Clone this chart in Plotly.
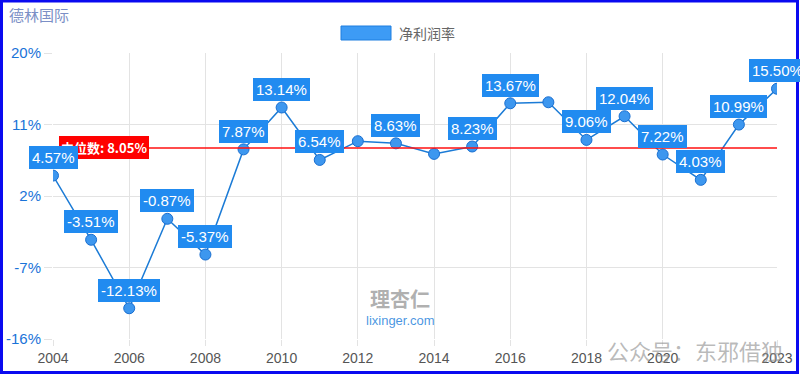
import numpy as np
import plotly.graph_objects as go

years = list(range(2004, 2024))
net_margin = [4.57, -3.51, -12.13, -0.87, -5.37, 7.87, 13.14, 6.54, 8.90, 8.63,
              7.30, 8.23, 13.67, 13.80, 9.06, 12.04, 7.22, 4.03, 10.99, 15.50]
hidden_labels = [2012, 2014, 2017]
x_ticks = [2004, 2006, 2008, 2010, 2012, 2014, 2016, 2018, 2020, 2023]
y_ticks = [-16, -7, 2, 11, 20]
title_text = "德林国际"
series_name = "净利润率"

median_val = float(np.median(net_margin))

W, H = 800, 376
ML, MR, MT, MB = 53, 23, 53, 37
PW, PH = W - ML - MR, H - MT - MB

FONT = "Liberation Sans, Arial, Noto Sans CJK SC, sans-serif"
CJK = "Noto Sans CJK SC, sans-serif"

def px_x(p):
    return (p - ML) / PW

def px_y(p):
    return 1 - (p - MT) / PH

fig = go.Figure()

fig.add_trace(go.Scatter(
    x=years, y=net_margin, mode="lines+markers", name=series_name,
    line=dict(color="#1b7bd6", width=1.5),
    marker=dict(size=11, color="#3d97ef", line=dict(color="#1a6fd0", width=1)),
    showlegend=False, hoverinfo="skip",
))

annotations = []

# median line + label (drawn first so value labels sit on top)
fig.add_shape(type="line", xref="paper", yref="y", x0=0, x1=1,
              y0=median_val, y1=median_val, line=dict(color="#ff1010", width=1.5))
annotations.append(dict(
    x=0, y=median_val, xref="paper", yref="y", xanchor="left", yanchor="middle",
    xshift=6, text=f"<b>中位数: {median_val:.2f}%</b>", showarrow=False,
    font=dict(family=CJK, size=13, color="white"),
    bgcolor="#ff0000", bordercolor="#ff0000", borderwidth=1, borderpad=1,
))

for yr, v in zip(years, net_margin):
    if yr in hidden_labels:
        continue
    annotations.append(dict(
        x=yr, y=v, xref="x", yref="y", text=f"{v:.2f}%", showarrow=False,
        yshift=18, font=dict(family=FONT, size=15, color="white"),
        bgcolor="#218bf0", bordercolor="#218bf0", borderwidth=1, borderpad=2,
    ))

# legend (box + text)
fig.add_shape(type="rect", xref="paper", yref="paper",
              x0=px_x(341), x1=px_x(391), y0=px_y(40), y1=px_y(26),
              fillcolor="#3d9bf5", line=dict(color="#1f7fe0", width=1))
annotations.append(dict(
    x=px_x(397), y=px_y(33), xref="paper", yref="paper", xanchor="left",
    yanchor="middle", text=series_name, showarrow=False,
    font=dict(family=CJK, size=14, color="#666666"),
))

# title
annotations.append(dict(
    x=px_x(7), y=px_y(15), xref="paper", yref="paper", xanchor="left",
    yanchor="middle", text=title_text, showarrow=False,
    font=dict(family=CJK, size=15, color="#7b8fc6"),
))

# watermarks
annotations.append(dict(
    x=px_x(400), y=px_y(298), xref="paper", yref="paper", xanchor="center",
    yanchor="middle", text="<b>理杏仁</b>", showarrow=False,
    font=dict(family=CJK, size=20, color="rgba(150,150,150,0.75)"),
))
annotations.append(dict(
    x=px_x(400), y=px_y(320), xref="paper", yref="paper", xanchor="center",
    yanchor="middle", text="lixinger.com", showarrow=False,
    font=dict(family=FONT, size=13, color="rgba(40,130,220,0.85)"),
))
annotations.append(dict(
    x=px_x(695), y=px_y(350), xref="paper", yref="paper", xanchor="center",
    yanchor="middle", text="公众号：东邪借独", showarrow=False,
    font=dict(family=CJK, size=22, color="rgba(140,140,140,0.6)"),
))

# blue frame around figure
fig.add_shape(type="rect", xref="paper", yref="paper",
              x0=px_x(1.5), x1=px_x(W - 2.5), y0=px_y(H - 3.5), y1=px_y(1),
              line=dict(color="#0a0af0", width=3), fillcolor="rgba(0,0,0,0)")

fig.update_layout(
    width=W, height=H,
    margin=dict(l=ML, r=MR, t=MT, b=MB, pad=0, autoexpand=False),
    paper_bgcolor="white", plot_bgcolor="white",
    annotations=annotations,
    showlegend=False,
    font=dict(family=FONT),
)
fig.update_xaxes(
    range=[2004, 2023], tickvals=x_ticks, ticktext=[str(t) for t in x_ticks],
    showgrid=True, gridcolor="#e3e3e3", gridwidth=1, zeroline=False,
    ticks="outside", ticklen=6, tickcolor="#e3e3e3", automargin=False,
    showline=False, tickfont=dict(family=FONT, size=14, color="#555555"),
)
fig.update_yaxes(
    range=[-16, 20], tickvals=y_ticks, ticktext=[f"{t}%" for t in y_ticks],
    showgrid=True, gridcolor="#e3e3e3", gridwidth=1, zeroline=False,
    ticks="outside", ticklen=8, tickcolor="#e3e3e3", automargin=False,
    showline=False, tickfont=dict(family=FONT, size=15, color="#1a73d8"),
)

fig.write_html(
    "out.html",
    config={"displayModeBar": False},
    post_script="document.body.style.margin='0';document.body.style.padding='0';"
                "document.body.style.overflow='hidden';",
)
